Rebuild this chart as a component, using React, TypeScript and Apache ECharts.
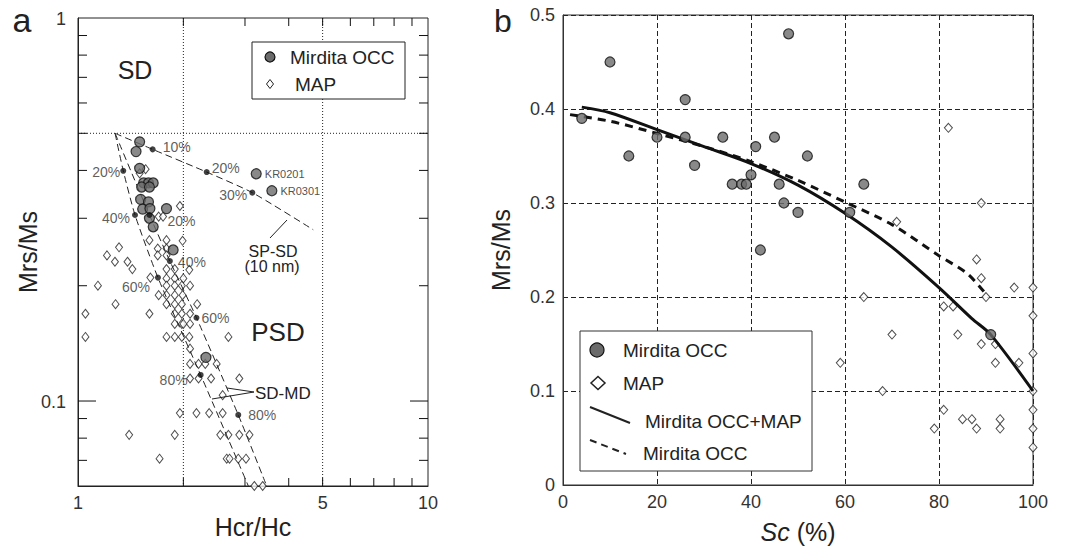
import React, { useEffect, useRef } from "react";
import * as echarts from "echarts";

const FONT = '"Liberation Sans", Arial, Helvetica, sans-serif';

// ---------- Panel a (Day plot, log-log) ----------
const aXRange = [1, 10];
const aYRange = [0.06, 1];
const aXTickLabels = [1, 5, 10];
const aYTickLabels = [0.1, 1];
const aXMinorTicks = [2, 3, 4, 5, 6, 7, 8, 9];
const aYMinorTicks = [0.07, 0.08, 0.09, 0.2, 0.3, 0.4, 0.5, 0.6, 0.7, 0.8, 0.9];
const aYMajorTicks = [0.1];
const aXGridLines = [2, 5];
const aYGridLines = [0.5];

const aOcc: [number, number][] = [
  [1.5, 0.475], [1.465, 0.448], [1.5, 0.405], [1.54, 0.371], [1.59, 0.371], [1.64, 0.371],
  [1.52, 0.362], [1.6, 0.362], [1.51, 0.336], [1.59, 0.331], [1.53, 0.317], [1.605, 0.318],
  [1.6, 0.3], [1.64, 0.285], [1.79, 0.318], [1.87, 0.248], [2.32, 0.13],
];
const aKrNames = ["KR0201", "KR0301"];
const aKrValues: [number, number][] = [[3.23, 0.392], [3.58, 0.354]];

const aMap: [number, number][] = [
  [1.5, 0.393], [1.56, 0.403], [1.955, 0.323], [1.7, 0.303], [1.75, 0.303],
  [1.6, 0.263], [1.79, 0.263], [1.99, 0.262],
  [1.69, 0.25], [1.79, 0.25], [1.31, 0.252],
  [1.21, 0.24], [1.69, 0.24], [1.79, 0.24],
  [1.275, 0.231], [1.385, 0.231],
  [1.43, 0.221], [1.79, 0.221], [1.89, 0.221], [2.08, 0.22],
  [1.61, 0.21], [1.79, 0.209], [1.89, 0.209], [2.0, 0.209],
  [1.14, 0.2], [1.79, 0.2], [1.89, 0.2], [1.98, 0.2], [2.09, 0.2],
  [1.7, 0.189], [1.79, 0.189], [1.89, 0.189], [1.99, 0.189],
  [1.28, 0.179], [1.79, 0.179], [1.89, 0.179], [1.98, 0.179], [2.19, 0.179],
  [1.05, 0.169], [1.6, 0.169], [1.89, 0.169], [1.98, 0.169], [2.09, 0.169],
  [1.89, 0.159], [1.98, 0.159], [2.0, 0.159], [2.09, 0.159],
  [1.05, 0.147], [1.79, 0.147], [1.89, 0.147], [1.98, 0.147], [2.08, 0.147], [2.69, 0.147],
  [2.09, 0.137],
  [2.09, 0.125], [2.21, 0.125], [2.31, 0.125], [2.49, 0.125],
  [2.09, 0.1145], [2.21, 0.1145], [2.4, 0.1145], [2.89, 0.1145],
  [2.59, 0.1036],
  [1.955, 0.093], [2.18, 0.093], [2.37, 0.093], [2.59, 0.093],
  [1.4, 0.0816], [1.89, 0.0816], [2.55, 0.0816], [2.69, 0.0816], [2.89, 0.0816], [3.09, 0.0816],
  [1.71, 0.0707], [2.66, 0.0707], [2.71, 0.0707], [2.87, 0.0707], [3.02, 0.0707],
  [3.19, 0.06], [3.37, 0.06],
];

// mixing curves
const spsdCurve: [number, number][] = [[1.276, 0.5], [1.634, 0.454], [2.332, 0.396], [3.148, 0.35], [4.7, 0.28]];
const sdmdLeftCurve: [number, number][] = [[1.276, 0.5], [1.347, 0.399], [1.455, 0.306], [1.692, 0.21], [2.241, 0.117], [3.067, 0.06]];
const sdmdRightCurve: [number, number][] = [[1.276, 0.5], [1.6, 0.306], [1.83, 0.232], [2.18, 0.165], [2.87, 0.092], [3.46, 0.06]];
const spsdDots: [number, number][] = [[1.634, 0.454], [2.332, 0.396], [3.148, 0.35]];
const spsdPct = ["10%", "20%", "30%"];
const sdmdLeftDots: [number, number][] = [[1.347, 0.399], [1.455, 0.306], [1.692, 0.21], [2.241, 0.117]];
const sdmdLeftPct = ["20%", "40%", "60%", "80%"];
const sdmdRightDots: [number, number][] = [[1.6, 0.306], [1.83, 0.232], [2.18, 0.165], [2.87, 0.092]];
const sdmdRightPct = ["20%", "40%", "60%", "80%"];

// ---------- Panel b ----------
const bOcc: [number, number][] = [
  [4, 0.39], [10, 0.45], [14, 0.35], [20, 0.37], [26, 0.41], [26, 0.37], [28, 0.34], [34, 0.37],
  [36, 0.32], [38, 0.32], [39, 0.32], [40, 0.33], [41, 0.36], [42, 0.25], [45, 0.37], [46, 0.32],
  [47, 0.3], [48, 0.48], [50, 0.29], [52, 0.35], [61, 0.29], [64, 0.32], [91, 0.16],
];
const bMap: [number, number][] = [
  [82, 0.38], [89, 0.3], [71, 0.28], [88, 0.24], [89, 0.22], [90, 0.2], [96, 0.21], [100, 0.21],
  [64, 0.2], [81, 0.19], [83, 0.19], [100, 0.18], [70, 0.16], [84, 0.16], [89, 0.15], [92, 0.15],
  [100, 0.14], [92, 0.13], [97, 0.13], [59, 0.13], [68, 0.1], [100, 0.1], [81, 0.08], [100, 0.08],
  [85, 0.07], [87, 0.07], [93, 0.07], [79, 0.06], [88, 0.06], [93, 0.06], [100, 0.06], [100, 0.04],
];
const bFitAll: [number, number][] = [
  [4, 0.402], [10, 0.396], [20, 0.378], [30, 0.36], [40, 0.342], [50, 0.319], [60, 0.289],
  [70, 0.253], [80, 0.21], [87, 0.177], [91, 0.16], [100, 0.1],
];
const bFitOcc: [number, number][] = [
  [1.5, 0.394], [10, 0.387], [20, 0.374], [30, 0.36], [40, 0.344], [50, 0.324], [60, 0.301],
  [70, 0.277], [80, 0.244], [86, 0.225], [90, 0.203],
];

const INK = "#222";
const GREY = "#6b6b6b";

function layer(data: number[][], draw: (api: any, cs: any, v: number[]) => any, z = 3) {
  return {
    type: "custom",
    xAxisIndex: 0,
    yAxisIndex: 0,
    silent: true,
    clip: false,
    z,
    data,
    renderItem: (params: any, api: any) => draw(api, params.coordSys, [api.value(0), api.value(1)]),
  };
}

function dotSeries(pts: [number, number][], pcts: string[], layouts: any[]) {
  return {
    type: "scatter",
    xAxisIndex: 0,
    yAxisIndex: 0,
    symbol: "circle",
    symbolSize: 6,
    clip: false,
    z: 6,
    itemStyle: { color: "#111" },
    data: pts.map((p, i) => ({
      value: p,
      label: {
        show: true,
        formatter: pcts[i],
        position: layouts[i].position,
        distance: layouts[i].distance,
        offset: layouts[i].offset,
        fontSize: 14,
        color: "#333",
        fontFamily: FONT,
      },
    })),
  };
}

const line = (x1: number, y1: number, x2: number, y2: number, extra: any = {}) => ({
  type: "line",
  shape: { x1, y1, x2, y2 },
  style: { stroke: INK, lineWidth: 1, ...extra },
  z: 20,
});
const txt = (x: number, y: number, text: string, fontSize: number, align = "left", extra: any = {}) => ({
  type: "text",
  x,
  y,
  z: 20,
  style: { text, fontSize, fontFamily: FONT, fill: INK, align, verticalAlign: "middle", ...extra },
});
const diamond = (cx: number, cy: number, hw: number, hh: number, lw = 1) => ({
  type: "polygon",
  z: 20,
  shape: { points: [[cx, cy - hh], [cx + hw, cy], [cx, cy + hh], [cx - hw, cy]] },
  style: { fill: "#fff", stroke: INK, lineWidth: lw },
});

// tick on an edge: x ticks carry the y of the edge (min = bottom, max = top)
function xTicks(values: number[], len: number) {
  const data: number[][] = [];
  values.forEach((v) => {
    data.push([v, aYRange[0]]);
    data.push([v, aYRange[1]]);
  });
  return layer(data, (api, cs, v) => {
    const p = api.coord([v[0], v[1]]);
    const dir = v[1] === aYRange[1] ? 1 : -1;
    return { type: "line", shape: { x1: p[0], y1: p[1], x2: p[0], y2: p[1] + dir * len }, style: { stroke: "#111", lineWidth: 1 } };
  }, 7);
}
function yTicks(values: number[], len: number) {
  const data: number[][] = [];
  values.forEach((v) => {
    data.push([aXRange[0], v]);
    data.push([aXRange[1], v]);
  });
  return layer(data, (api, cs, v) => {
    const p = api.coord([v[0], v[1]]);
    const dir = v[0] === aXRange[0] ? 1 : -1;
    return { type: "line", shape: { x1: p[0], y1: p[1], x2: p[0] + dir * len, y2: p[1] }, style: { stroke: "#111", lineWidth: 1 } };
  }, 7);
}

export default function App() {
  const ref = useRef<HTMLDivElement>(null);
  useEffect(() => {
    if (!ref.current) return;
    const chart = echarts.init(ref.current, undefined, { renderer: "svg" });
    const option: any = {
      animation: false,
      backgroundColor: "#fff",
      textStyle: { fontFamily: FONT },
      grid: [
        { left: 78, top: 18, width: 350, height: 468, show: true, borderColor: INK, borderWidth: 1, backgroundColor: "transparent" },
        { left: 563, top: 15, width: 470, height: 470, show: true, borderColor: "#333", borderWidth: 1, backgroundColor: "transparent" },
      ],
      xAxis: [
        {
          gridIndex: 0, type: "log", logBase: 10, min: aXRange[0], max: aXRange[1],
          axisLine: { show: true, lineStyle: { color: INK } }, axisTick: { show: false },
          axisLabel: { show: false }, splitLine: { show: false },
          name: "Hcr/Hc", nameLocation: "middle", nameGap: 28,
          nameTextStyle: { fontSize: 25, color: INK, fontFamily: FONT },
        },
        {
          gridIndex: 1, type: "value", min: 0, max: 100, interval: 20,
          axisLine: { show: true, lineStyle: { color: "#333" } }, axisTick: { show: false },
          axisLabel: { fontSize: 18, color: "#333", margin: 8, fontFamily: FONT },
          splitLine: { show: true, lineStyle: { color: INK, width: 1, type: [5, 3] } },
          name: "{i|Sc} (%)", nameLocation: "middle", nameGap: 34,
          nameTextStyle: { fontSize: 25, color: INK, fontFamily: FONT, rich: { i: { fontStyle: "italic", fontSize: 25, color: INK, fontFamily: FONT } } },
        },
      ],
      yAxis: [
        {
          gridIndex: 0, type: "log", logBase: 10, min: aYRange[0], max: aYRange[1],
          axisLine: { show: true, lineStyle: { color: INK } }, axisTick: { show: false },
          axisLabel: { show: false }, splitLine: { show: false },
          name: "Mrs/Ms", nameLocation: "middle", nameGap: 38, nameRotate: 90,
          nameTextStyle: { fontSize: 25, color: INK, fontFamily: FONT },
        },
        {
          gridIndex: 1, type: "value", min: 0, max: 0.5, interval: 0.1,
          axisLine: { show: true, lineStyle: { color: "#333" } }, axisTick: { show: false },
          axisLabel: { fontSize: 18, color: "#333", margin: 8, fontFamily: FONT },
          splitLine: { show: true, lineStyle: { color: INK, width: 1, type: [5, 3] } },
          name: "Mrs/Ms", nameLocation: "middle", nameGap: 50, nameRotate: 90,
          nameTextStyle: { fontSize: 25, color: INK, fontFamily: FONT },
        },
      ],
      series: [
        // dotted grid lines (panel a)
        layer(aXGridLines.map((v) => [v, aYRange[1]]), (api, cs, v) => {
          const x = api.coord([v[0], aYRange[1]])[0];
          return { type: "line", shape: { x1: x, y1: cs.y, x2: x, y2: cs.y + cs.height }, style: { stroke: INK, lineWidth: 1, lineDash: [1, 2] } };
        }, 1),
        layer(aYGridLines.map((v) => [aXRange[0], v]), (api, cs, v) => {
          const y = api.coord([aXRange[0], v[1]])[1];
          return { type: "line", shape: { x1: cs.x, y1: y, x2: cs.x + cs.width, y2: y }, style: { stroke: INK, lineWidth: 1, lineDash: [1, 2] } };
        }, 1),
        // inward ticks on all four sides (panel a)
        xTicks(aXMinorTicks, 8),
        yTicks(aYMinorTicks, 9),
        yTicks(aYMajorTicks, 18),
        // tick labels (panel a)
        layer(aXTickLabels.map((v) => [v, aYRange[0]]), (api, cs, v) => {
          const x = api.coord([v[0], aYRange[0]])[0];
          return { type: "text", x, y: cs.y + cs.height + 17, style: { text: String(v[0]), fontSize: 18, fill: "#333", fontFamily: FONT, align: "center", verticalAlign: "middle" } };
        }),
        layer(aYTickLabels.map((v) => [aXRange[0], v]), (api, cs, v) => {
          const y = api.coord([aXRange[0], v[1]])[1];
          return { type: "text", x: cs.x - 12, y: y + 1, style: { text: String(v[1]), fontSize: 18, fill: "#333", fontFamily: FONT, align: "right", verticalAlign: "middle" } };
        }),
        // MAP diamonds (a)
        {
          name: "MAP", type: "scatter", xAxisIndex: 0, yAxisIndex: 0, symbol: "diamond", symbolSize: [7, 9], clip: false, z: 2,
          itemStyle: { color: "#fff", borderColor: INK, borderWidth: 1 }, data: aMap,
        },
        // mixing lines
        ...[spsdCurve, sdmdLeftCurve, sdmdRightCurve].map((c) => ({
          type: "line", xAxisIndex: 0, yAxisIndex: 0, data: c, showSymbol: false, symbol: "none", smooth: 0.2, clip: false, z: 3,
          lineStyle: { color: INK, width: 1, type: [7, 4] },
        })),
        // OCC circles (a)
        {
          name: "Mirdita OCC", type: "scatter", xAxisIndex: 0, yAxisIndex: 0, symbol: "circle", symbolSize: 10, clip: false, z: 4,
          itemStyle: { color: GREY, borderColor: "#111", borderWidth: 1.2 }, data: aOcc,
        },
        {
          type: "scatter", xAxisIndex: 0, yAxisIndex: 0, symbol: "circle", symbolSize: 10, clip: false, z: 4,
          itemStyle: { color: GREY, borderColor: "#111", borderWidth: 1.2 },
          data: aKrValues.map((v, i) => ({ value: v, name: aKrNames[i] })),
          label: { show: true, formatter: "{b}", position: "right", distance: 3, fontSize: 11, color: INK, fontFamily: FONT },
        },
        dotSeries(spsdDots, spsdPct, [
          { position: "right", distance: 7, offset: [0, -2] },
          { position: "right", distance: 2, offset: [0, -4] },
          { position: "left", distance: 2, offset: [0, 2] },
        ]),
        dotSeries(sdmdLeftDots, sdmdLeftPct, [
          { position: "left", distance: 0, offset: [0, 1] },
          { position: "left", distance: 2, offset: [0, 3] },
          { position: "left", distance: 5, offset: [0, 9] },
          { position: "left", distance: 10, offset: [0, 5] },
        ]),
        dotSeries(sdmdRightDots, sdmdRightPct, [
          { position: "right", distance: 15, offset: [0, 6] },
          { position: "right", distance: 5, offset: [0, 1] },
          { position: "right", distance: 2, offset: [0, 0] },
          { position: "right", distance: 7, offset: [0, 0] },
        ]),
        // Panel b
        {
          name: "MAP", type: "scatter", xAxisIndex: 1, yAxisIndex: 1, symbol: "diamond", symbolSize: [8, 9], clip: false, z: 2,
          itemStyle: { color: "#fff", borderColor: INK, borderWidth: 1 }, data: bMap,
        },
        {
          name: "Mirdita OCC+MAP", type: "line", xAxisIndex: 1, yAxisIndex: 1, data: bFitAll, showSymbol: false, symbol: "none", smooth: 0.3, z: 3,
          lineStyle: { color: "#111", width: 3 },
        },
        {
          name: "Mirdita OCC fit", type: "line", xAxisIndex: 1, yAxisIndex: 1, data: bFitOcc, showSymbol: false, symbol: "none", smooth: 0.3, z: 3,
          lineStyle: { color: "#111", width: 3, type: [8, 6] },
        },
        {
          name: "Mirdita OCC", type: "scatter", xAxisIndex: 1, yAxisIndex: 1, symbol: "circle", symbolSize: 10, clip: false, z: 4,
          itemStyle: { color: GREY, borderColor: "#111", borderWidth: 1.2 }, data: bOcc,
        },
      ],
      graphic: [
        // panel letters
        txt(22, 20, "a", 34, "center"),
        txt(503, 21, "b", 32, "center"),
        // panel a annotations
        txt(135, 70, "SD", 25, "center"),
        txt(278, 332, "PSD", 26, "center"),
        txt(273, 251, "SP-SD", 16, "center"),
        txt(272, 266, "(10 nm)", 16, "center"),
        txt(255, 393, "SD-MD", 17, "left"),
        line(270, 238, 287, 220),
        line(254, 392, 227, 388),
        line(254, 392, 212, 399),
        // panel a legend
        { type: "rect", z: 19, shape: { x: 252, y: 42, width: 153, height: 57 }, style: { fill: "#fff", stroke: INK, lineWidth: 1 } },
        { type: "circle", z: 20, shape: { cx: 270, cy: 57, r: 5 }, style: { fill: GREY, stroke: "#111", lineWidth: 1.2 } },
        txt(290, 57, "Mirdita OCC", 19),
        diamond(270, 84, 3.5, 4.5),
        txt(295, 84, "MAP", 19),
        // panel b legend
        { type: "rect", z: 19, shape: { x: 580, y: 331, width: 232, height: 140 }, style: { fill: "#fff", stroke: "#333", lineWidth: 1 } },
        { type: "circle", z: 20, shape: { cx: 597, cy: 350, r: 7 }, style: { fill: GREY, stroke: "#111", lineWidth: 1.2 } },
        txt(623, 350, "Mirdita OCC", 19),
        diamond(598, 383, 7, 6.5, 1.5),
        txt(623, 383, "MAP", 19),
        line(590, 407, 630, 423, { lineWidth: 2 }),
        txt(645, 421, "Mirdita OCC+MAP", 19),
        line(590, 440, 626, 454, { lineWidth: 2, lineDash: [7, 5] }),
        txt(643, 453, "Mirdita OCC", 19),
      ],
    };
    chart.setOption(option);
    return () => chart.dispose();
  }, []);
  return <div ref={ref} style={{ position: "fixed", left: 0, top: 0, width: 1066, height: 550, background: "#fff" }} />;
}
